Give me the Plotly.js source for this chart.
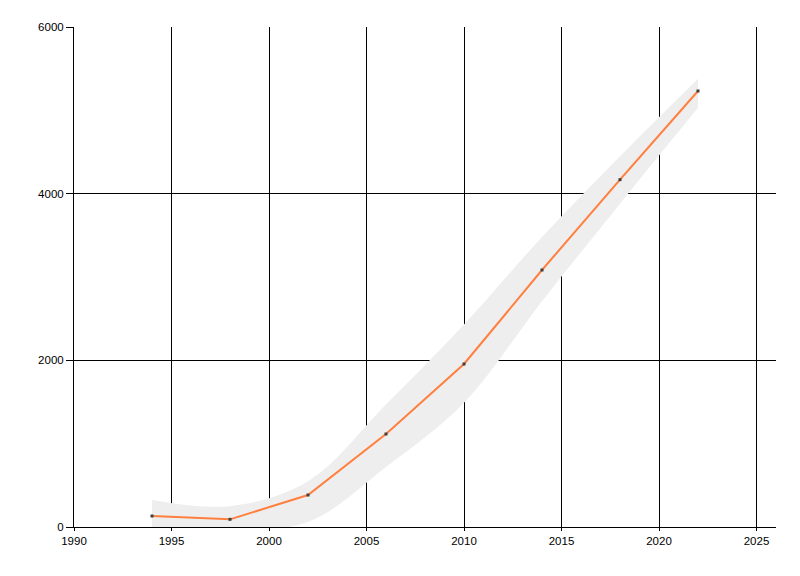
<!DOCTYPE html>
<html>
<head>
<meta charset="utf-8">
<script src="https://cdn.plot.ly/plotly-3.0.1.min.js"></script>
<style>html,body{margin:0;padding:0;background:#fff;}#chart{width:800px;height:576px;}</style>
</head>
<body>
<div id="chart"></div>
<script>
const years = [1994, 1998, 2002, 2006, 2010, 2014, 2018, 2022];
const values = [132, 92, 384, 1116, 1956, 3084, 4168, 5232];
const bandUpper = [324, 250, 550, 1470, 2430, 3480, 4450, 5380];
const bandLower = [0, -30, 60, 720, 1490, 2710, 3880, 5030];
const xTicks = [1990, 1995, 2000, 2005, 2010, 2015, 2020, 2025];
const yTicks = [0, 2000, 4000, 6000];

const traces = [
  {x: years, y: bandLower, type: 'scatter', mode: 'lines', line: {width: 0, shape: 'spline', smoothing: 1, color: 'rgba(0,0,0,0)'}, hoverinfo: 'skip', showlegend: false},
  {x: years, y: bandUpper, type: 'scatter', mode: 'lines', fill: 'tonexty', fillcolor: '#EEEEEE', line: {width: 0, shape: 'spline', smoothing: 1, color: 'rgba(0,0,0,0)'}, hoverinfo: 'skip', showlegend: false},
  {x: years, y: values, type: 'scatter', mode: 'lines+markers', line: {color: '#FF7F3F', width: 2}, marker: {symbol: 'square', size: 3, color: '#404040'}, showlegend: false}
];

const layout = {
  width: 800, height: 576,
  margin: {l: 74, r: 24, t: 27, b: 49},
  paper_bgcolor: '#fff', plot_bgcolor: '#fff',
  font: {family: 'Liberation Sans, Arial, sans-serif', size: 11.5, color: '#000'},
  showlegend: false,
  xaxis: {
    range: [1990, 2026], tickvals: xTicks, ticktext: xTicks.map(String),
    showgrid: true, gridcolor: '#000', gridwidth: 1,
    showline: true, linecolor: '#000', linewidth: 1,
    ticks: 'outside', ticklen: 3, tickcolor: '#000', zeroline: false
  },
  yaxis: {
    range: [0, 6000], tickvals: yTicks, ticktext: yTicks.map(String),
    showgrid: true, gridcolor: '#000', gridwidth: 1,
    showline: true, linecolor: '#000', linewidth: 1,
    ticks: 'outside', ticklen: 7, tickcolor: '#000', zeroline: false
  }
};

Plotly.newPlot('chart', traces, layout, {staticPlot: true, displayModeBar: false});
</script>
</body>
</html>
